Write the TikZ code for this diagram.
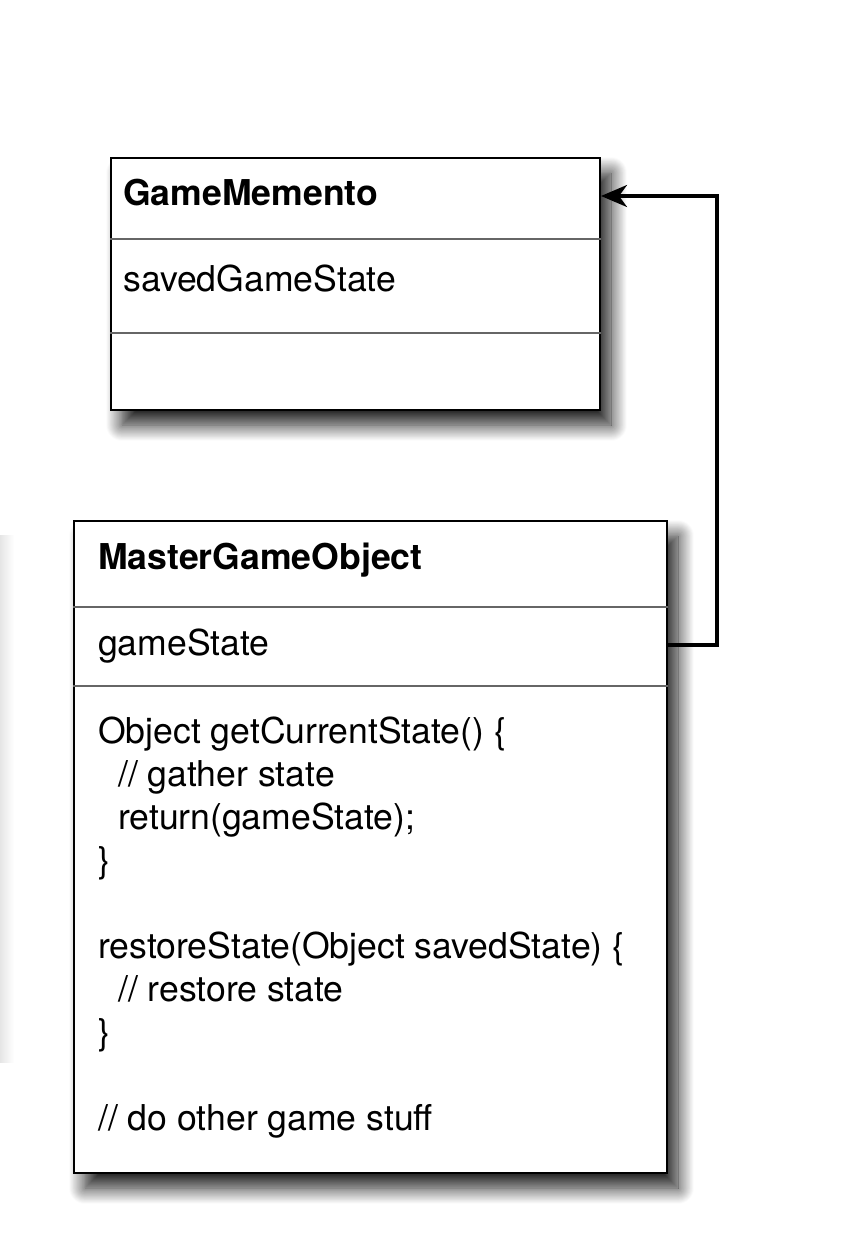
\documentclass[tikz,border=0pt]{standalone}
\usepackage{fontspec}
\setmainfont{TeX Gyre Heros}
\usetikzlibrary{arrows.meta,shadows.blur}

\tikzset{
  umlbox/.style={draw=black, line width=2pt, fill=white, anchor=north west, inner sep=0pt,
    blur shadow={shadow xshift=11pt, shadow yshift=-15pt, shadow blur radius=16pt,
      shadow blur steps=20, shadow opacity=90}},
  sepline/.style={draw=black!60, line width=2pt},
  umltext/.style={anchor=base west, inner sep=0pt, font=\fontsize{35.6}{43}\selectfont},
  umltitle/.style={umltext, font=\fontsize{35.6}{43}\selectfont\bfseries},
  assoc/.style={line width=3.5pt, -{Stealth[length=26pt, width=22pt, inset=8pt]}}
}

\begin{document}
\begin{tikzpicture}[x=1pt, y=-1pt]
  \useasboundingbox (0,0) rectangle (850,1258);
  % faint shadow of a box cut off at the left edge
  \shade[left color=black!10, right color=white] (0,535) rectangle (14,1062);

  % GameMemento
  \node[umlbox, minimum width=489pt, minimum height=252pt] (memento) at (110,157) {};
  \draw[sepline] (memento.west |- 0,239) -- (memento.east |- 0,239);
  \draw[sepline] (memento.west |- 0,333) -- (memento.east |- 0,333);
  \node[umltitle] (mementoname) at (123,205) {GameMemento};
  \node[umltext] (mementoattr) at (123,291) {savedGameState};

  % MasterGameObject
  \node[umlbox, minimum width=593pt, minimum height=652pt] (master) at (73,520) {};
  \draw[sepline] (master.west |- 0,607) -- (master.east |- 0,607);
  \draw[sepline] (master.west |- 0,686) -- (master.east |- 0,686);
  \node[umltitle] (mastername) at (98,569) {MasterGameObject};
  \node[umltext] (masterattr) at (98,655) {gameState};
  \node[umltext] (op1) at (98,743) {Object getCurrentState() \{};
  \node[umltext] (op2) at (98,786) {\hspace*{0.56em}// gather state};
  \node[umltext] (op3) at (98,829) {\hspace*{0.56em}return(gameState);};
  \node[umltext] (op4) at (98,872) {\}};
  \node[umltext] (op5) at (98,958) {restoreState(Object savedState) \{};
  \node[umltext] (op6) at (98,1001) {\hspace*{0.56em}// restore state};
  \node[umltext] (op7) at (98,1044) {\}};
  \node[umltext] (op8) at (98,1130) {// do other game stuff};

  % association
  \draw[assoc] (master.east |- 0,645) -- ++(49,0) |- (memento.east |- 0,196);
\end{tikzpicture}
\end{document}
